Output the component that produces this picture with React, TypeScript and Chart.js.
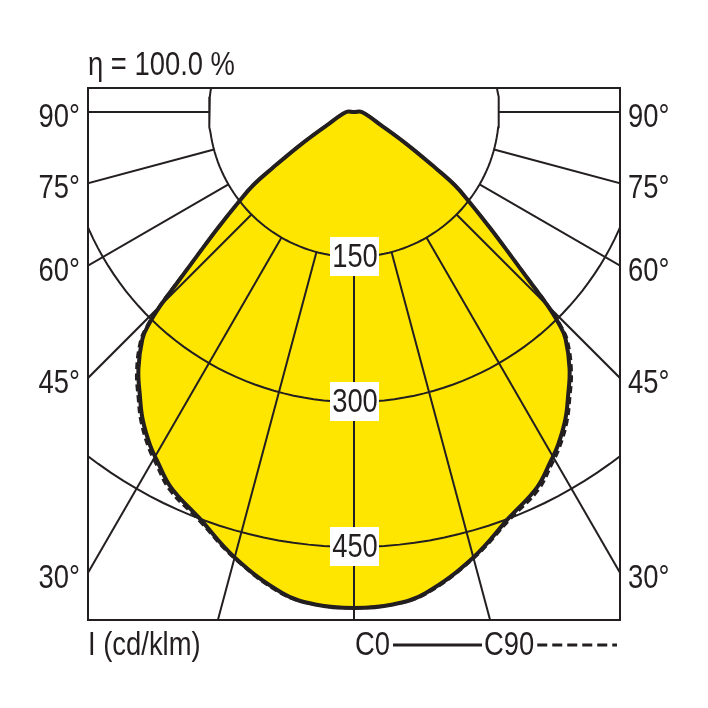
import { useEffect, useRef } from "react";
import Chart from "chart.js/auto";

const FONT = '"Liberation Sans", Arial, sans-serif';
const NARROW = 0.83; // condensed look
const INK = "#231f20";
const YELLOW = "#ffe600";

// gamma angle from nadir (deg) and luminous intensity (cd/klm)
const angles = [0, 4.5, 8.5, 15, 21, 26, 29.5, 31.5, 34.5, 37, 40, 43, 44, 45, 46, 47.5, 49.5, 52, 54, 55.5, 58.5, 64, 90, 180];
const c0Values = [513, 511, 503, 477, 449, 432, 414, 404, 386, 368, 347, 321, 306, 283, 254, 220, 186, 152, 129, 102, 65, 31, 8, 0];
const c90Values = [513, 511, 504, 478, 451, 435, 417, 407, 389, 371, 350, 324, 309, 286, 256, 221, 186, 152, 129, 102, 65, 31, 8, 0];

const gridRadii = [150, 300, 450];
const radialAngles = [0, 15, 30, 45, 60, 75, 90];
const sideLabels = [30, 45, 60, 75, 90];

const etaLabel = "η = 100.0 %";
const unitLabel = "I (cd/klm)";
const legendLabels = ["C0", "C90"];

const X_MAX = 275.2;
const Y_MIN = -525.5;
const Y_MAX = 24.8;

const rad = (d: number) => (d * Math.PI) / 180;

// closed curve: left half (C180 side) then right half
const curve = (values: number[]) => {
  const left = angles
    .map((a, i) => ({ x: -values[i] * Math.sin(rad(a)), y: -values[i] * Math.cos(rad(a)) }))
    .reverse();
  const right = angles.map((a, i) => ({ x: values[i] * Math.sin(rad(a)), y: -values[i] * Math.cos(rad(a)) }));
  return [...left, ...right.slice(1)];
};

const circle = (r: number) => {
  const pts = [];
  for (let a = 0; a <= 360; a += 2) pts.push({ x: r * Math.sin(rad(a)), y: -r * Math.cos(rad(a)) });
  return pts;
};

const text = (ctx: CanvasRenderingContext2D, s: string, x: number, y: number, align: CanvasTextAlign) => {
  ctx.save();
  ctx.translate(x, y);
  ctx.scale(NARROW, 1);
  ctx.textAlign = align;
  ctx.fillText(s, 0, 0);
  ctx.restore();
};

const overlay = {
  id: "ldcOverlay",
  afterDatasetsDraw(chart: any) {
    const { ctx, chartArea: ca } = chart;
    const x = chart.scales.x;
    const y = chart.scales.y;
    ctx.save();

    // frame
    ctx.strokeStyle = INK;
    ctx.lineWidth = 2;
    ctx.strokeRect(ca.left, ca.top, ca.right - ca.left, ca.bottom - ca.top);

    ctx.font = `33px ${FONT}`;
    ctx.fillStyle = INK;

    // value boxes on the circles
    ctx.textBaseline = "middle";
    gridRadii.forEach((r) => {
      const px = x.getPixelForValue(0);
      const py = y.getPixelForValue(-r);
      ctx.fillStyle = "#fff";
      ctx.fillRect(px - 24, py - 20, 49, 39);
      ctx.fillStyle = INK;
      text(ctx, String(r), px + 1, py + 1, "center");
    });

    // angle labels both sides
    sideLabels.forEach((a) => {
      const yv = a === 90 ? 0 : -X_MAX / Math.tan(rad(a));
      const py = y.getPixelForValue(yv) + 6;
      text(ctx, `${a}°`, ca.left - 8, py, "right");
      text(ctx, `${a}°`, ca.right + 8, py, "left");
    });

    // title and unit
    ctx.textBaseline = "alphabetic";
    text(ctx, etaLabel, ca.left, ca.top - 13, "left");
    text(ctx, unitLabel, ca.left, ca.bottom + 35, "left");

    // legend
    const cx = x.getPixelForValue(0);
    const ly = ca.bottom + 25;
    text(ctx, legendLabels[0], cx + 1, ca.bottom + 35, "left");
    const c0End = cx + 1 + ctx.measureText(legendLabels[0]).width * NARROW;
    const c90Start = cx + 130;
    text(ctx, legendLabels[1], c90Start, ca.bottom + 35, "left");
    const c90End = c90Start + ctx.measureText(legendLabels[1]).width * NARROW;

    ctx.strokeStyle = INK;
    ctx.lineWidth = 3;
    ctx.beginPath();
    ctx.moveTo(c0End + 3, ly);
    ctx.lineTo(c90Start - 2, ly);
    ctx.stroke();

    ctx.setLineDash([10, 5]);
    ctx.beginPath();
    ctx.moveTo(c90End + 3, ly);
    ctx.lineTo(ca.right - 3, ly);
    ctx.stroke();

    ctx.restore();
  },
};

const LightDistribution = () => {
  const canvasRef = useRef<HTMLCanvasElement | null>(null);

  useEffect(() => {
    const ctx = canvasRef.current?.getContext("2d");
    if (!ctx) return;

    const gridSets: any[] = gridRadii.map((r) => ({
      data: circle(r),
      showLine: true,
      borderColor: INK,
      borderWidth: 2,
      fill: false,
      clip: 0,
      order: 5,
    }));
    radialAngles.forEach((a) => {
      [-1, 1].forEach((side) => {
        if (a === 0 && side === 1) return;
        gridSets.push({
          data: [
            { x: side * 150 * Math.sin(rad(a)), y: -150 * Math.cos(rad(a)) },
            { x: side * 900 * Math.sin(rad(a)), y: -900 * Math.cos(rad(a)) },
          ],
          showLine: true,
          borderColor: INK,
          borderWidth: 2,
          fill: false,
          clip: 0,
          order: 5,
        });
      });
    });

    const chart = new Chart(ctx, {
      type: "scatter",
      data: {
        datasets: [
          {
            data: curve(c0Values),
            showLine: true,
            fill: "shape",
            backgroundColor: YELLOW,
            borderWidth: 0,
            tension: 0.4,
            order: 10,
          },
          ...gridSets,
          {
            data: curve(c0Values),
            showLine: true,
            borderColor: INK,
            borderWidth: 4,
            tension: 0.4,
            fill: false,
            order: 2,
          },
          {
            data: curve(c90Values),
            showLine: true,
            borderColor: INK,
            borderWidth: 3,
            borderDash: [7, 4],
            tension: 0.4,
            fill: false,
            order: 1,
          },
        ],
      },
      options: {
        animation: false,
        responsive: true,
        maintainAspectRatio: false,
        events: [],
        layout: { padding: { left: 88, right: 88, top: 88, bottom: 88 } },
        elements: { point: { radius: 0, hoverRadius: 0 } },
        plugins: { legend: { display: false }, tooltip: { enabled: false } },
        scales: {
          x: { type: "linear", min: -X_MAX, max: X_MAX, display: false },
          y: { type: "linear", min: Y_MIN, max: Y_MAX, display: false },
        },
      },
      plugins: [overlay],
    } as any);

    return () => {
      chart.destroy();
    };
  }, []);

  return (
    <div style={{ position: "absolute", left: 0, top: 0, width: 708, height: 708, background: "#fff" }}>
      <canvas ref={canvasRef}></canvas>
    </div>
  );
};

export default LightDistribution;
